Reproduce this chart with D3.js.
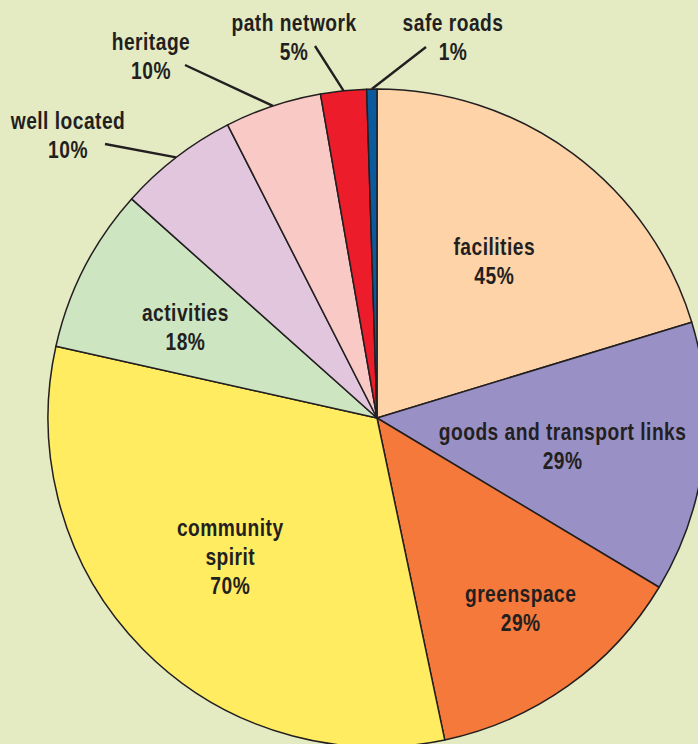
<!DOCTYPE html>
<html>
<head>
<meta charset="utf-8">
<script src="https://cdn.jsdelivr.net/npm/d3@7/dist/d3.min.js"></script>
<style>
  html, body { margin: 0; padding: 0; background: #E4EBC3; }
  svg { display: block; }
  text { font-family: "Liberation Sans", Arial, Helvetica, sans-serif; font-weight: bold; fill: #231F20; }
</style>
</head>
<body>
<svg id="chart" width="698" height="744"></svg>
<script>
// Categories, in drawing order clockwise from 12 o'clock
const categories = ["facilities", "goods and transport links", "greenspace", "community spirit",
                    "activities", "well located", "heritage", "path network", "safe roads"];
// Percentages printed on the labels
const labelPercents = [45, 29, 29, 70, 18, 10, 10, 5, 1];
// Share of the circle each slice occupies in the drawing (%)
const sliceShares = [20.3, 13.3, 13.1, 31.8, 8.1, 5.9, 4.75, 2.25, 0.5];
const colors = ["#FDD3A7", "#9990C5", "#F4793B", "#FFEC60", "#CDE5C0",
                "#E1C6DE", "#F9C9C5", "#ED1C2B", "#0C5A9E"];

const data = categories.map((c, i) => ({ name: c, pct: labelPercents[i], share: sliceShares[i], color: colors[i] }));

const W = 698, H = 744;
const cx = 377, cy = 418, R = 329;
const svg = d3.select("#chart");
svg.append("rect").attr("width", W).attr("height", H).attr("fill", "#E4EBC3");

const g = svg.append("g").attr("transform", `translate(${cx},${cy})`);
const pie = d3.pie().sort(null).value(d => d.share).startAngle(0).endAngle(2 * Math.PI);
const arcs = pie(data);
const arc = d3.arc().innerRadius(0).outerRadius(R);

g.selectAll("path.slice").data(arcs).enter().append("path")
  .attr("class", "slice")
  .attr("d", arc)
  .attr("fill", d => d.data.color)
  .attr("stroke", "#231F20")
  .attr("stroke-width", 1.5)
  .attr("stroke-linejoin", "round");

// Layout for labels (layout only, not data)
const fontSize = 24, lineH = 29, squeeze = 0.8;
const inner = {
  "facilities": { r: 197, lines: ["facilities"], dy: 1 },
  "goods and transport links": { r: 190, lines: ["goods and transport links"], dx: -3, dy: 5 },
  "greenspace": { r: 239, lines: ["greenspace"], dx: 5, dy: -5 },
  "community spirit": { r: 202, lines: ["community", "spirit"], dx: -3, dy: -3 },
  "activities": { r: 212, lines: ["activities"], dx: -3, dy: 6 }
};
const outer = {
  "well located": { tx: -309, ty: -283, lx: -272, ly: -274, lines: ["well located"] },
  "heritage": { tx: -226, ty: -362, lx: -192, ly: -353, lines: ["heritage"] },
  "path network": { tx: -83, ty: -381, lx: -62, ly: -372, lines: ["path network"] },
  "safe roads": { tx: 76, ty: -381, lx: 49, ly: -371, lines: ["safe roads"] }
};

function drawLabel(x, y, lines, pct) {
  const all = lines.concat([pct + "%"]);
  const t = g.append("text")
    .attr("transform", `translate(${x},${y}) scale(${squeeze},1)`)
    .attr("text-anchor", "middle")
    .attr("font-size", fontSize)
    .style("letter-spacing", "0.6px");
  const y0 = -(all.length - 1) * lineH / 2;
  all.forEach((s, i) => {
    t.append("tspan").attr("x", 0).attr("y", y0 + i * lineH).attr("dy", "0.35em").text(s);
  });
}

arcs.forEach(a => {
  const mid = (a.startAngle + a.endAngle) / 2;
  const name = a.data.name;
  if (inner[name]) {
    const L = inner[name];
    const x = Math.sin(mid) * L.r + (L.dx || 0);
    const y = -Math.cos(mid) * L.r + (L.dy || 0);
    drawLabel(x, y, L.lines, a.data.pct);
  } else if (outer[name]) {
    const L = outer[name];
    const px = Math.sin(mid) * R, py = -Math.cos(mid) * R;
    g.append("line")
      .attr("x1", px).attr("y1", py)
      .attr("x2", L.lx).attr("y2", L.ly)
      .attr("stroke", "#231F20").attr("stroke-width", 2.4);
    drawLabel(L.tx, L.ty, L.lines, a.data.pct);
  }
});
</script>
</body>
</html>
